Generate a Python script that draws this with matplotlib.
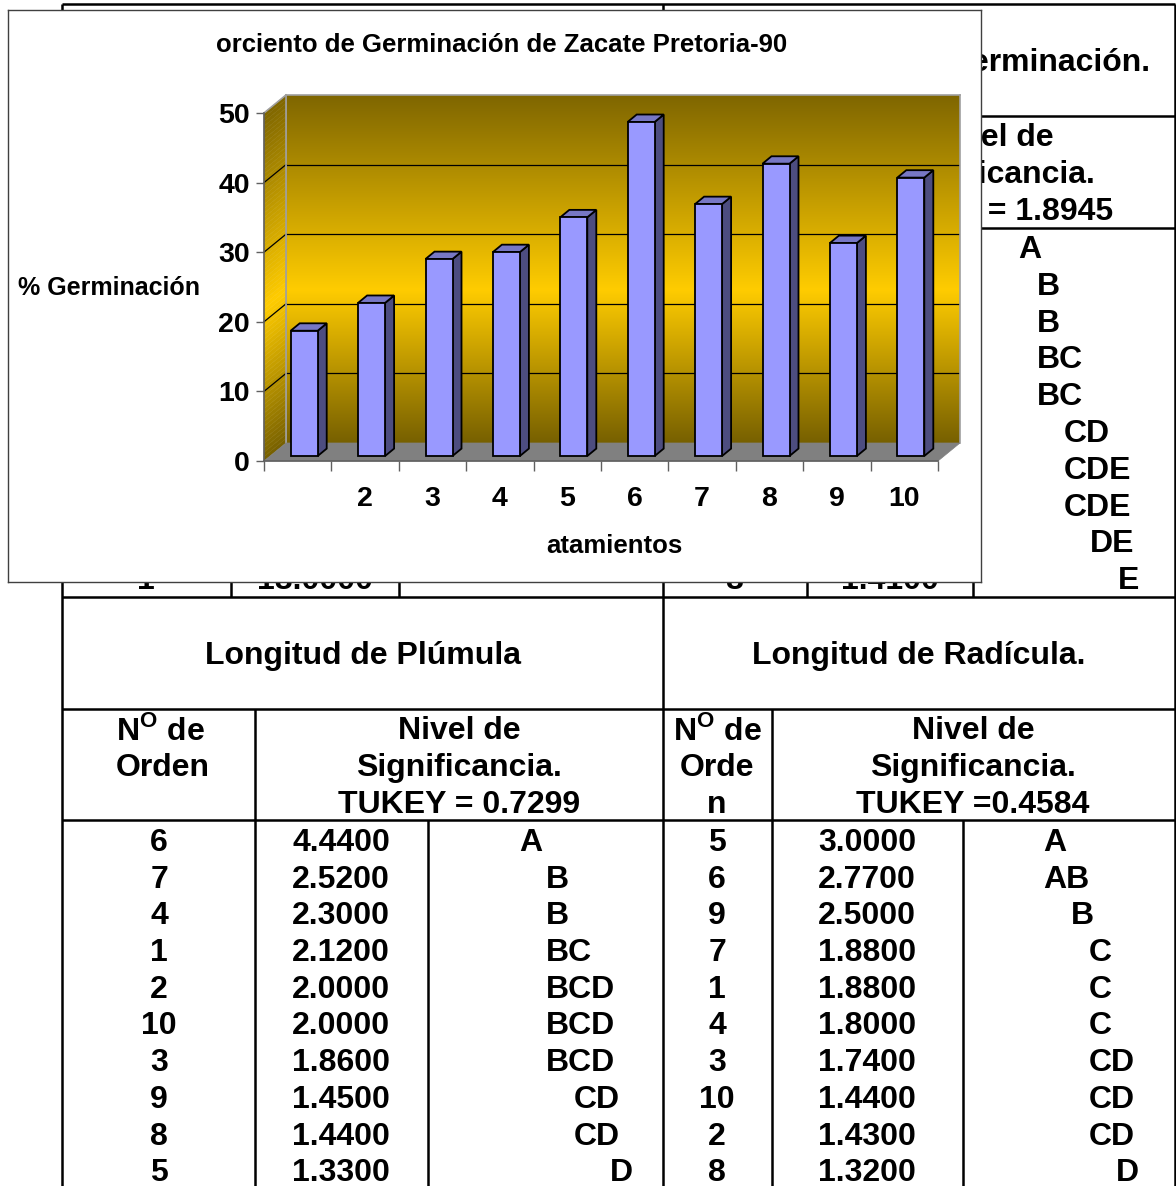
import matplotlib
matplotlib.use("Agg")
import matplotlib.pyplot as plt
import numpy as np
from matplotlib.patches import Polygon
from matplotlib.colors import LinearSegmentedColormap

plt.rcParams["font.family"] = ["Liberation Sans", "DejaVu Sans"]
plt.rcParams["font.weight"] = "bold"
plt.rcParams["mathtext.fontset"] = "custom"
plt.rcParams["mathtext.rm"] = "Liberation Sans:bold"
plt.rcParams["mathtext.bf"] = "Liberation Sans:bold"

W, H = 1176, 1186

# --- chart data (Porciento de Germinacion, treatments 1..10) ---
treat = [1, 2, 3, 4, 5, 6, 7, 8, 9, 10]
germ = [18, 22, 28.3, 29.3, 34.3, 48, 36.2, 42, 30.6, 40]
xlabels = ["", "2", "3", "4", "5", "6", "7", "8", "9", "10"]   # "1" not shown in original
yticks = [0, 10, 20, 30, 40, 50]

# --- upper table (mostly covered by the chart) ---
top_grp = ["A", "B", "B", "BC", "BC", "CD", "CDE", "CDE", "DE", "E"]
top_last_left = ["1", "18.0000"]
top_last_right = ["8", "1.4100"]

# --- lower tables ---
plu_orden = ["6", "7", "4", "1", "2", "10", "3", "9", "8", "5"]
plu_val = ["4.4400", "2.5200", "2.3000", "2.1200", "2.0000", "2.0000",
           "1.8600", "1.4500", "1.4400", "1.3300"]
plu_grp = ["A", "B", "B", "BC", "BCD", "BCD", "BCD", "CD", "CD", "D"]
rad_orden = ["5", "6", "9", "7", "1", "4", "3", "10", "2", "8"]
rad_val = ["3.0000", "2.7700", "2.5000", "1.8800", "1.8800", "1.8000",
           "1.7400", "1.4400", "1.4300", "1.3200"]
rad_grp = ["A", "AB", "B", "C", "C", "C", "CD", "CD", "CD", "D"]

FS = 23
fig = plt.figure(figsize=(W / 100, H / 100), dpi=100)

# ================= background table, pixel coordinates =================
ax0 = fig.add_axes([0, 0, 1, 1])
ax0.set_xlim(0, W); ax0.set_ylim(H, 0); ax0.axis("off")
LW = 1.8
def hl(y, x0, x1): ax0.plot([x0, x1], [y, y], color="black", lw=LW, solid_capstyle="butt")
def vl(x, y0, y1): ax0.plot([x, x], [y0, y1], color="black", lw=LW, solid_capstyle="butt")
def t(x, y, s, ha="center", fs=FS):
    ax0.text(x, y + 3, s, ha=ha, va="center", fontsize=fs, fontweight="bold")

for y in (4, 116, 228, 597, 709, 820):
    hl(y, 62, 1175)
vl(62, 4, H); vl(663, 4, H); vl(1175, 4, H)
vl(231, 116, 597); vl(399, 116, 597); vl(807, 116, 597); vl(973, 228, 597)
vl(255, 709, H); vl(428, 820, H); vl(772, 709, H); vl(963, 820, H)

# upper right header (left part hidden by chart)
t(1150, 60, "Velocidad de Germinación.", ha="right")
for yy, s in zip((135, 172, 209), ("Nivel de", "Significancia.", "TUKEY = 1.8945")):
    t(992, yy, s)
ind_top = {"A": 1018, "B": 1037, "C": 1064, "D": 1090, "E": 1118}
for k, g in enumerate(top_grp):
    t(ind_top[g[0]], 247 + k * 36.8, g, ha="left")
t(146, 578, top_last_left[0]); t(315, 578, top_last_left[1])
t(735, 578, top_last_right[0]); t(890, 578, top_last_right[1])

# lower headers
t(363, 653, "Longitud de Plúmula")
t(919, 653, "Longitud de Radícula.")
t(160, 728, r"N$^{\mathrm{O}}$ de"); t(163, 765, "Orden")
for yy, s in zip((728, 765, 802), ("Nivel de", "Significancia.", "TUKEY = 0.7299")):
    t(459, yy, s)
t(717, 728, r"N$^{\mathrm{O}}$ de"); t(717, 765, "Orde"); t(717, 802, "n")
for yy, s in zip((728, 765, 802), ("Nivel de", "Significancia.", "TUKEY =0.4584")):
    t(973, yy, s)

ind_plu = {"A": 519, "B": 546, "C": 574, "D": 610}
ind_rad = {"A": 1043, "B": 1071, "C": 1089, "D": 1116}
for k in range(len(plu_orden)):
    y = 840 + k * 36.7
    t(159, y, plu_orden[k]); t(341, y, plu_val[k]); t(ind_plu[plu_grp[k][0]], y, plu_grp[k], ha="left")
    t(717, y, rad_orden[k]); t(867, y, rad_val[k]); t(ind_rad[rad_grp[k][0]], y, rad_grp[k], ha="left")

# ================= chart overlay =================
def fr(x0, y0, x1, y1):
    return [x0 / W, 1 - y1 / H, (x1 - x0) / W, (y1 - y0) / H]

axc = fig.add_axes(fr(8, 10, 981, 582))
axc.set_zorder(5)
axc.set_facecolor("white")
axc.set_xticks([]); axc.set_yticks([])
for s in axc.spines.values():
    s.set_color("#404040"); s.set_linewidth(1.0)
def ct(x, y, s, fs=15, ha="center"):
    axc.text(x / W, 1 - y / H, s, transform=fig.transFigure, ha=ha, va="center",
             fontsize=fs, fontweight="bold")
ct(502, 45, "orciento de Germinación de Zacate Pretoria-90", fs=18.5)
ct(18, 288, "% Germinación", fs=18, ha="left")
ct(614, 546, "atamientos", fs=18.5)

cmap = LinearSegmentedColormap.from_list("wall", [(0, "#776000"), (0.44, "#FFCC00"), (1, "#7F6600")])

# back wall
FX0, FY0, FX1, FY1 = 264, 113, 938, 461   # front plane (pixels)
DPX, DPY = 22, 18                          # depth of floor / wall
axw = fig.add_axes(fr(FX0 + DPX, FY0 - DPY, FX1 + DPX, FY1 - DPY))
axw.set_zorder(6)
axw.set_xlim(0.5, 10.5); axw.set_ylim(0, 50)
axw.imshow(np.linspace(0, 1, 256)[:, None], cmap=cmap, origin="lower",
           extent=(0.5, 10.5, 0, 50), aspect="auto", interpolation="bilinear")
for v in yticks[1:-1]:
    axw.axhline(v, color="black", lw=0.9)
axw.set_xticks([]); axw.set_yticks([])
for s in axw.spines.values():
    s.set_color("#A0A0A0"); s.set_linewidth(1.2)
axw.spines["bottom"].set_visible(False)

# front plot axes
axp = fig.add_axes(fr(FX0, FY0, FX1, FY1))
axp.set_zorder(7)
axp.patch.set_visible(False)
axp.set_xlim(0.5, 10.5); axp.set_ylim(0, 50)
ux = 10 / (FX1 - FX0)
uy = 50 / (FY1 - FY0)
DX, DY = DPX * ux, DPY * uy

# left wall with gradient strips
n = 80
edges = np.linspace(0, 50, n + 1)
for a, b in zip(edges[:-1], edges[1:]):
    axp.add_patch(Polygon([(0.5, a), (0.5 + DX, a + DY), (0.5 + DX, b + DY), (0.5, b)],
                          closed=True, facecolor=cmap((a + b) / 100), edgecolor=cmap((a + b) / 100),
                          lw=0.3, clip_on=False, zorder=1))
for v in yticks[1:-1]:
    axp.plot([0.5, 0.5 + DX], [v, v + DY], color="black", lw=0.9, clip_on=False, zorder=2)
axp.plot([0.5, 0.5 + DX], [50, 50 + DY], color="#A0A0A0", lw=1.2, clip_on=False, zorder=2)
axp.plot([0.5 + DX, 0.5 + DX], [DY, 50 + DY], color="#A0A0A0", lw=1.2, clip_on=False, zorder=2)

# floor
axp.add_patch(Polygon([(0.5, 0), (10.5, 0), (10.5 + DX, DY), (0.5 + DX, DY)], closed=True,
                      facecolor="#808080", edgecolor="#808080", lw=0.5, clip_on=False, zorder=2))

# bars
bw = 27 * ux
ox, oy = 6.5 * ux, 5 * uy
sx, sy = 9 * ux, 7.4 * uy
x = np.array(treat, dtype=float) + ox
axp.bar(x, germ, width=bw, bottom=oy, color="#9999FF", edgecolor="black", lw=1.3, zorder=4)
for xi, h in zip(x, germ):
    r, l, top = xi + bw / 2, xi - bw / 2, oy + h
    axp.add_patch(Polygon([(r, oy), (r + sx, oy + sy), (r + sx, top + sy), (r, top)], closed=True,
                          facecolor="#4D4D80", edgecolor="black", lw=1.3, zorder=3))
    axp.add_patch(Polygon([(l, top), (r, top), (r + sx, top + sy), (l + sx, top + sy)], closed=True,
                          facecolor="#7777C4", edgecolor="black", lw=1.3, zorder=3))

# axes lines, ticks
for s in ("top", "right"):
    axp.spines[s].set_visible(False)
for s in ("left", "bottom"):
    axp.spines[s].set_color("#606060"); axp.spines[s].set_linewidth(1.2)
axp.set_yticks(yticks)
axp.set_yticklabels([str(v) for v in yticks], fontsize=20.5, fontweight="bold")
axp.tick_params(axis="y", length=6, width=1, color="#606060", pad=4)
axp.set_xticks(treat)
axp.set_xticklabels(xlabels, fontsize=20.5, fontweight="bold")
axp.tick_params(axis="x", which="major", length=0, pad=18)
axp.set_xticks(np.arange(0.5, 11, 1), minor=True)
axp.tick_params(axis="x", which="minor", length=7, width=1, color="#606060")

fig.savefig("out.png", dpi=100)
